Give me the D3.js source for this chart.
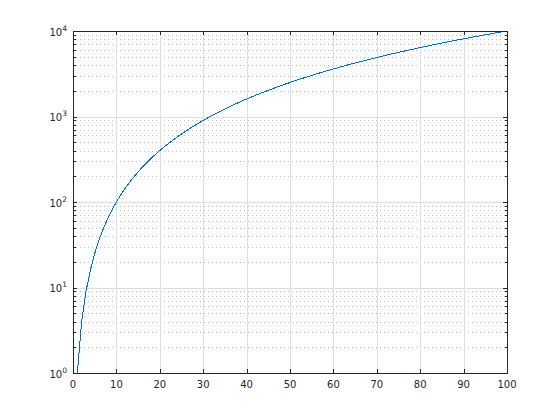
<!DOCTYPE html>
<html>
<head>
<meta charset="utf-8">
<script src="https://cdn.jsdelivr.net/npm/d3@7"></script>
<style>
  body { margin: 0; background: #fff; }
  svg { display: block; }
  text { font-family: "DejaVu Sans", Helvetica, Arial, sans-serif; fill: #262626; }
</style>
</head>
<body>
<script>
// Curve values (one point per integer step)
var xValues = [1,2,3,4,5,6,7,8,9,10,11,12,13,14,15,16,17,18,19,20,
  21,22,23,24,25,26,27,28,29,30,31,32,33,34,35,36,37,38,39,40,
  41,42,43,44,45,46,47,48,49,50,51,52,53,54,55,56,57,58,59,60,
  61,62,63,64,65,66,67,68,69,70,71,72,73,74,75,76,77,78,79,80,
  81,82,83,84,85,86,87,88,89,90,91,92,93,94,95,96,97,98,99,100];
var yValues = [1,4,9,16,25,36,49,64,81,100,121,144,169,196,225,256,289,324,361,400,
  441,484,529,576,625,676,729,784,841,900,961,1024,1089,1156,1225,1296,1369,1444,1521,1600,
  1681,1764,1849,1936,2025,2116,2209,2304,2401,2500,2601,2704,2809,2916,3025,3136,3249,3364,3481,3600,
  3721,3844,3969,4096,4225,4356,4489,4624,4761,4900,5041,5184,5329,5476,5625,5776,5929,6084,6241,6400,
  6561,6724,6889,7056,7225,7396,7569,7744,7921,8100,8281,8464,8649,8836,9025,9216,9409,9604,9801,10000];

var xTicks = [0,10,20,30,40,50,60,70,80,90,100];
var yExponents = [0,1,2,3,4];

var width = 560, height = 420;
// plot box
var boxL = 73, boxR = 507, boxT = 31, boxB = 373;

var svg = d3.select('body').append('svg')
  .attr('width', width)
  .attr('height', height);

var x = d3.scaleLinear().domain([0, 100]).range([boxL, boxR]);
var y = d3.scaleLog().domain([1, 10000]).range([boxB, boxT]);

// minor values for the log axis
var minorVals = [];
yExponents.slice(0, -1).forEach(function(e) {
  for (var k = 2; k <= 9; k++) minorVals.push(k * Math.pow(10, e));
});

var grid = svg.append('g').attr('shape-rendering', 'crispEdges');

// minor grid (dotted)
grid.selectAll('line.minor')
  .data(minorVals)
  .enter().append('line')
  .attr('x1', boxL + 3).attr('x2', boxR)
  .attr('y1', d => Math.round(y(d)) + 0.5)
  .attr('y2', d => Math.round(y(d)) + 0.5)
  .attr('stroke', '#c2c2c2')
  .attr('stroke-width', 1)
  .attr('stroke-dasharray', '1,3');

// major grid
grid.selectAll('line.vx')
  .data(xTicks)
  .enter().append('line')
  .attr('x1', d => Math.round(x(d)) + 0.5).attr('x2', d => Math.round(x(d)) + 0.5)
  .attr('y1', boxT).attr('y2', boxB)
  .attr('stroke', '#dedede');

grid.selectAll('line.hy')
  .data(yExponents)
  .enter().append('line')
  .attr('x1', boxL).attr('x2', boxR)
  .attr('y1', d => Math.round(y(Math.pow(10, d))) + 0.5)
  .attr('y2', d => Math.round(y(Math.pow(10, d))) + 0.5)
  .attr('stroke', '#dedede');

// curve
var line = d3.line()
  .x((d, i) => x(xValues[i]))
  .y(d => y(d));

svg.append('path')
  .datum(yValues)
  .attr('d', line)
  .attr('fill', 'none')
  .attr('stroke', '#0072BD')
  .attr('stroke-width', 1)
  .attr('shape-rendering', 'crispEdges');

// axes box
var ax = svg.append('g').attr('stroke', '#262626').attr('stroke-width', 1)
  .attr('shape-rendering', 'crispEdges');
ax.append('rect')
  .attr('x', boxL + 0.5).attr('y', boxT + 0.5)
  .attr('width', boxR - boxL).attr('height', boxB - boxT)
  .attr('fill', 'none');

// x ticks (bottom and top, inward)
xTicks.forEach(function(t) {
  var px = Math.round(x(t)) + 0.5;
  ax.append('line').attr('x1', px).attr('x2', px).attr('y1', boxB).attr('y2', boxB - 4);
  ax.append('line').attr('x1', px).attr('x2', px).attr('y1', boxT).attr('y2', boxT + 4);
});

// y major & minor ticks (left and right)
yExponents.forEach(function(e) {
  var py = Math.round(y(Math.pow(10, e))) + 0.5;
  ax.append('line').attr('x1', boxL).attr('x2', boxL + 4).attr('y1', py).attr('y2', py);
  ax.append('line').attr('x1', boxR).attr('x2', boxR - 4).attr('y1', py).attr('y2', py);
});
minorVals.forEach(function(v) {
  var py = Math.round(y(v)) + 0.5;
  ax.append('line').attr('x1', boxL).attr('x2', boxL + 2.5).attr('y1', py).attr('y2', py);
  ax.append('line').attr('x1', boxR).attr('x2', boxR - 2.5).attr('y1', py).attr('y2', py);
});

// x tick labels
svg.selectAll('text.xl')
  .data(xTicks)
  .enter().append('text')
  .attr('x', d => x(d))
  .attr('y', boxB + 15)
  .attr('text-anchor', 'middle')
  .attr('font-size', 10)
  .text(d => d);

// y tick labels: 10^e
yExponents.forEach(function(e) {
  var t = svg.append('text')
    .attr('x', boxL - 6)
    .attr('y', y(Math.pow(10, e)) + 4.5)
    .attr('text-anchor', 'end')
    .attr('font-size', 10);
  t.append('tspan').text('10');
  t.append('tspan').attr('dy', -5).attr('font-size', 7.5).text(e);
});
</script>
</body>
</html>
